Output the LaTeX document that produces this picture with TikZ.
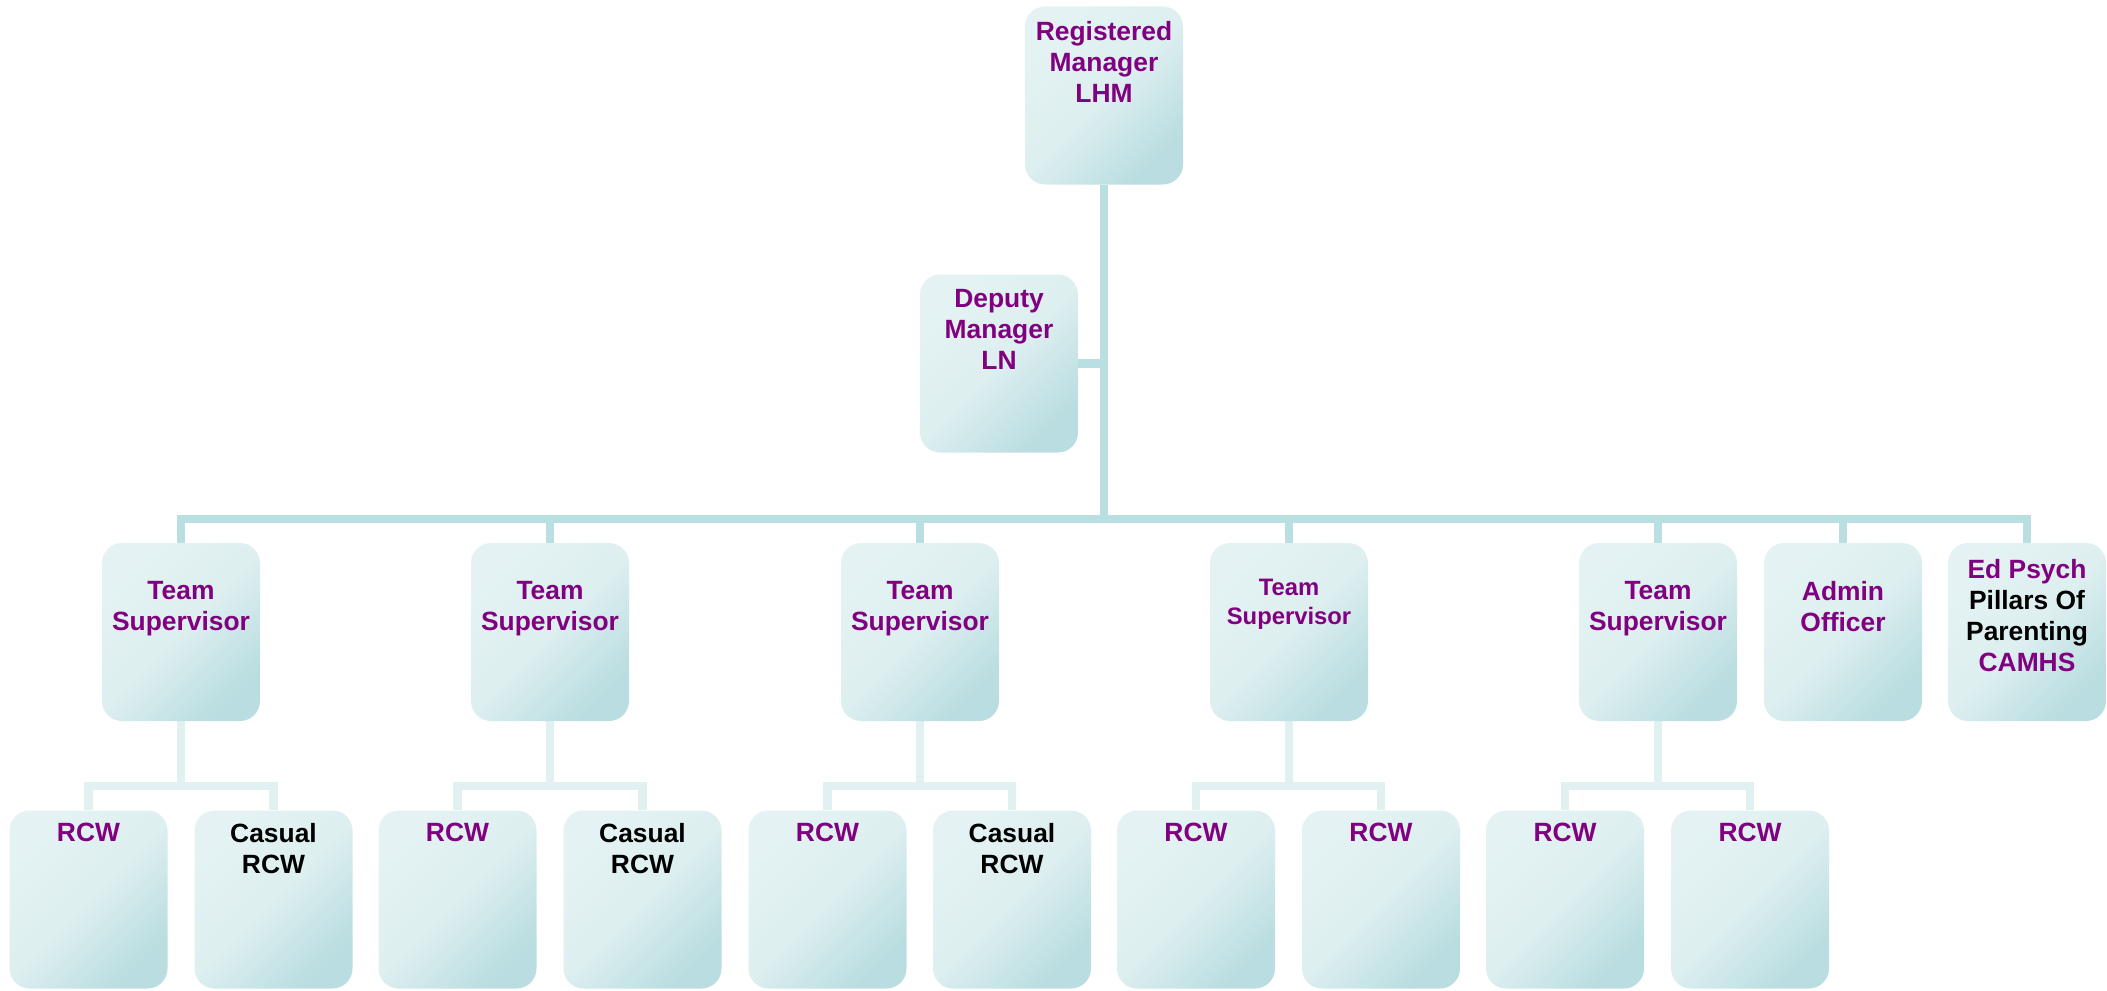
\documentclass[tikz,border=0pt]{standalone}
\usepackage{fontspec}
\setmainfont{Liberation Sans}
\usepackage{xcolor}
\usetikzlibrary{positioning,backgrounds}
\definecolor{plum}{HTML}{800080}
\definecolor{boxlt}{HTML}{E4F2F3}
\definecolor{boxdk}{HTML}{B9DDE0}
\definecolor{lnk}{HTML}{B9DFE2}
\definecolor{lnklt}{HTML}{E1F1F2}

\begin{document}
\begin{tikzpicture}[x=0.5pt,y=-0.5pt,
  post/.style={rounded corners=10pt,minimum width=79pt,minimum height=89pt,inner sep=0pt,
               top color=boxlt,bottom color=boxdk,middle color=boxlt!85!boxdk,shading angle=45},
  txt/.style={inner sep=0pt,align=center,text=plum,
              font=\bfseries\fontsize{13.2}{15.5}\selectfont},
  small/.style={font=\bfseries\fontsize{11.9}{14.8}\selectfont},
  bus/.style={draw=lnk,line width=4.3pt},
  sub/.style={draw=lnklt,line width=4.2pt}]
\useasboundingbox (0,0) rectangle (2107,990);

\node[post] (rm) at (1104,95.5) {};
\node[post] (dm) at (999,363.5) {};

\node[post] (ts1) at (181,632) {};
\node[post] (ts2) at (550,632) {};
\node[post] (ts3) at (920,632) {};
\node[post] (ts4) at (1289,632) {};
\node[post] (ts5) at (1658,632) {};
\node[post] (ao)  at (1843,632) {};
\node[post] (ep)  at (2027,632) {};

\node[post] (w1a) at (88.5,899.5) {};  \node[post] (w1b) at (273.5,899.5) {};
\node[post] (w2a) at (457.5,899.5) {}; \node[post] (w2b) at (642.5,899.5) {};
\node[post] (w3a) at (827.5,899.5) {}; \node[post] (w3b) at (1012,899.5) {};
\node[post] (w4a) at (1196,899.5) {};  \node[post] (w4b) at (1381,899.5) {};
\node[post] (w5a) at (1565,899.5) {};  \node[post] (w5b) at (1750,899.5) {};

% connectors behind the boxes
\begin{scope}[on background layer]
\coordinate (hub) at (1104,519);
\draw[bus] (rm.south) -- (hub);
\draw[bus] (dm.east) -- (dm.east -| rm.south);
\foreach \n in {ts1,ts2,ts3,ts4,ts5,ao,ep}
  \draw[bus] (hub) -| (\n.north);
\foreach \t/\a/\b in {ts1/w1a/w1b,ts2/w2a/w2b,ts3/w3a/w3b,ts4/w4a/w4b,ts5/w5a/w5b}{
  \draw[sub] (\t.south) -- ++(0,66);
  \draw[sub] (\a.north) -- ++(0,-24) -| (\b.north);
}
\end{scope}

% texts
\node[txt,below=7.5pt of rm.north] (rm-t) {Registered\\Manager\\LHM};
\node[txt,below=7.5pt of dm.north] (dm-t) {Deputy\\Manager\\LN};
\node[txt,below=19pt of ts1.north] (ts1-t) {Team\\Supervisor};
\node[txt,below=19pt of ts2.north] (ts2-t) {Team\\Supervisor};
\node[txt,below=19pt of ts3.north] (ts3-t) {Team\\Supervisor};
\node[txt,small,below=18pt of ts4.north] (ts4-t) {Team\\Supervisor};
\node[txt,below=19pt of ts5.north] (ts5-t) {Team\\Supervisor};
\node[txt,below=19pt of ao.north] (ao-t) {Admin\\Officer};
\node[txt,below=8pt of ep.north] (ep-t)
  {Ed Psych\\\textcolor{black}{Pillars Of}\\\textcolor{black}{Parenting}\\CAMHS};

\node[txt,below=6.5pt of w1a.north] (w1a-t) {RCW};
\node[txt,text=black,below=6.5pt of w1b.north] (w1b-t) {Casual\\RCW};
\node[txt,below=6.5pt of w2a.north] (w2a-t) {RCW};
\node[txt,text=black,below=6.5pt of w2b.north] (w2b-t) {Casual\\RCW};
\node[txt,below=6.5pt of w3a.north] (w3a-t) {RCW};
\node[txt,text=black,below=6.5pt of w3b.north] (w3b-t) {Casual\\RCW};
\node[txt,below=6.5pt of w4a.north] (w4a-t) {RCW};
\node[txt,below=6.5pt of w4b.north] (w4b-t) {RCW};
\node[txt,below=6.5pt of w5a.north] (w5a-t) {RCW};
\node[txt,below=6.5pt of w5b.north] (w5b-t) {RCW};
\end{tikzpicture}
\end{document}
